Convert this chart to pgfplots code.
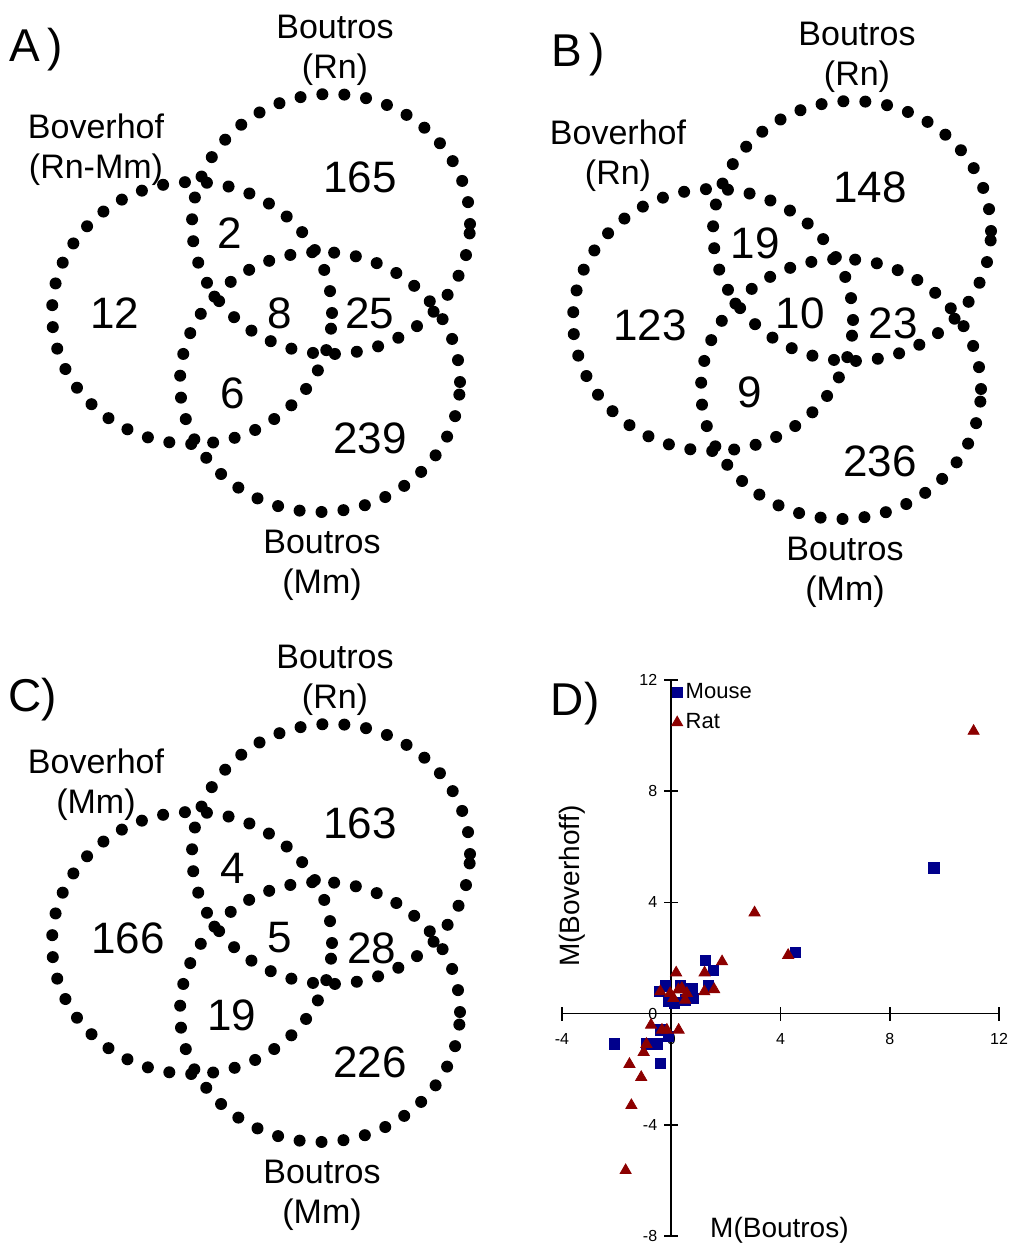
\documentclass[border=0pt]{standalone}
\usepackage{fontspec}
\setmainfont{Liberation Sans}
\usepackage{pgfplots}
\pgfplotsset{compat=1.18}
\definecolor{mouse}{RGB}{0,0,140}
\definecolor{rat}{RGB}{140,0,0}

\tikzset{
  vdots/.style={line width=6pt, line cap=round, dash pattern=on 0pt off 11pt},
  num/.style={font=\fontsize{22}{26}\selectfont, inner sep=0pt},
  lab/.style={font=\fontsize{17}{20}\selectfont, align=center, inner sep=0pt},
  panel/.style={font=\fontsize{23}{26}\selectfont, inner sep=0pt},
}
\pgfplotsset{
  venn/.style={scale only axis, width=252pt, height=310pt,
    xmin=0, xmax=504, ymin=0, ymax=620, y dir=reverse,
    hide axis, clip=false, anchor=south west},
}
% three rings, same geometry in every panel (pixel units of one panel)
\newcommand{\vennrings}{%
  \draw[vdots] (axis cs:192,313) ellipse [x radius=70pt, y radius=65.5pt];
  \draw[vdots] (axis cs:331,224) ellipse [x radius=69.5pt, y radius=65pt];
  \draw[vdots] (axis cs:320,382) ellipse [x radius=70pt, y radius=65pt];
}

\begin{document}
\begin{tikzpicture}

% A)
\begin{axis}[venn, at={(0pt,311.5pt)}]
\vennrings
\node[panel] at (axis cs:36,50) {A\,)};
\node[lab] at (axis cs:335,50) {Boutros\\(Rn)};
\node[lab] at (axis cs:96,150) {Boverhof\\(Rn-Mm)};
\node[lab] at (axis cs:322,565) {Boutros\\(Mm)};
\node[num] at (axis cs:360,177) {165};
\node[num] at (axis cs:230,233) {2};
\node[num] at (axis cs:115,313) {12};
\node[num] at (axis cs:280,313) {8};
\node[num] at (axis cs:370,313) {25};
\node[num] at (axis cs:233,393) {6};
\node[num] at (axis cs:370,438) {239};
\end{axis}

% B)
\begin{axis}[venn, at={(260.5pt,308pt)}]
\vennrings
\node[panel] at (axis cs:57,48) {B\,)};
\node[lab] at (axis cs:336,50) {Boutros\\(Rn)};
\node[lab] at (axis cs:97,149) {Boverhof\\(Rn)};
\node[lab] at (axis cs:324,565) {Boutros\\(Mm)};
\node[num] at (axis cs:349,180) {148};
\node[num] at (axis cs:234,236) {19};
\node[num] at (axis cs:129,318) {123};
\node[num] at (axis cs:279,306) {10};
\node[num] at (axis cs:372,316) {23};
\node[num] at (axis cs:229,385) {9};
\node[num] at (axis cs:359,454) {236};
\end{axis}

% C)
\begin{axis}[venn, at={(0pt,-3.5pt)}]
\vennrings
\node[panel] at (axis cs:33,70) {C)};
\node[lab] at (axis cs:335,50) {Boutros\\(Rn)};
\node[lab] at (axis cs:96,155) {Boverhof\\(Mm)};
\node[lab] at (axis cs:322,565) {Boutros\\(Mm)};
\node[num] at (axis cs:360,193) {163};
\node[num] at (axis cs:233,238) {4};
\node[num] at (axis cs:128,308) {166};
\node[num] at (axis cs:280,308) {5};
\node[num] at (axis cs:372,318) {28};
\node[num] at (axis cs:232,385) {19};
\node[num] at (axis cs:370,432) {226};
\end{axis}

% D) scatter
\begin{axis}[
    at={(281pt,3.5pt)}, anchor=south west,
    scale only axis, width=218.5pt, height=278pt,
    xmin=-4, xmax=12, ymin=-8, ymax=12,
    axis lines=middle,
    axis line style={-, line width=0.8pt},
    xtick={-4,0,4,8,12}, ytick={-8,-4,0,4,8,12},
    tick align=center, major tick length=7pt,
    tick style={line width=0.8pt, black},
    hide obscured x ticks=false, hide obscured y ticks=false,
    ticklabel style={font=\fontsize{8}{9}\selectfont},
    xticklabel style={yshift=-3pt},
    /pgf/number format/assume math mode=true,
    clip=false,
    legend style={at={(axis cs:0,12)}, anchor=north west, draw=none, fill=none,
      font=\fontsize{11}{12}\selectfont, row sep=3pt, inner sep=0pt,
      nodes={inner sep=1.5pt}},
    legend cell align=left,
    legend image code/.code={\draw[mark repeat=2,mark phase=2,#1]
      plot coordinates {(0pt,0pt) (3.8pt,0pt) (7.6pt,0pt)};},
]
\addplot[only marks, mark=square*, mark size=2.6pt, color=mouse] coordinates {
(9.61,5.24) (4.55,2.20) (1.25,1.91) (1.55,1.55) (-0.22,1.00) (-0.43,0.79)
(0.33,1.00) (0.76,0.91) (1.37,1.00) (0.82,0.55) (0.51,0.49) (-0.10,0.43)
(0.12,0.38) (0.65,0.70) (-0.40,-0.58) (-0.10,-0.83) (-2.09,-1.09)
(-0.89,-1.09) (-0.52,-1.09) (-0.40,-1.79)
};
\addlegendentry{Mouse}
\addplot[only marks, mark=triangle*, mark size=3.2pt, color=rat] coordinates {
(11.07,10.16) (3.05,3.63) (4.28,2.10) (1.86,1.87) (0.18,1.47) (1.22,1.47)
(-0.40,0.79) (0.39,0.91) (1.21,0.79) (1.57,0.87) (-0.04,0.73) (0.08,0.55)
(0.57,0.73) (0.51,0.49) (0.26,0.86) (-0.74,-0.41) (-0.34,-0.59) (-0.16,-0.59)
(0.27,-0.59) (-0.91,-1.10) (-1.01,-1.39) (-1.53,-1.82) (-1.10,-2.29)
(-1.46,-3.30) (-1.67,-5.64)
};
\addlegendentry{Rat}
\node[panel] at (axis cs:-3.52,11.14) {D)};
\node[rotate=90, font=\fontsize{14}{16}\selectfont] at (axis cs:-3.63,4.58) {M(Boverhoff)};
\node[font=\fontsize{14}{16}\selectfont] at (axis cs:3.96,-7.78) {M(Boutros)};
\end{axis}

\pgfresetboundingbox
\path (0pt,0pt) rectangle (504pt,621.5pt);
\end{tikzpicture}
\end{document}
